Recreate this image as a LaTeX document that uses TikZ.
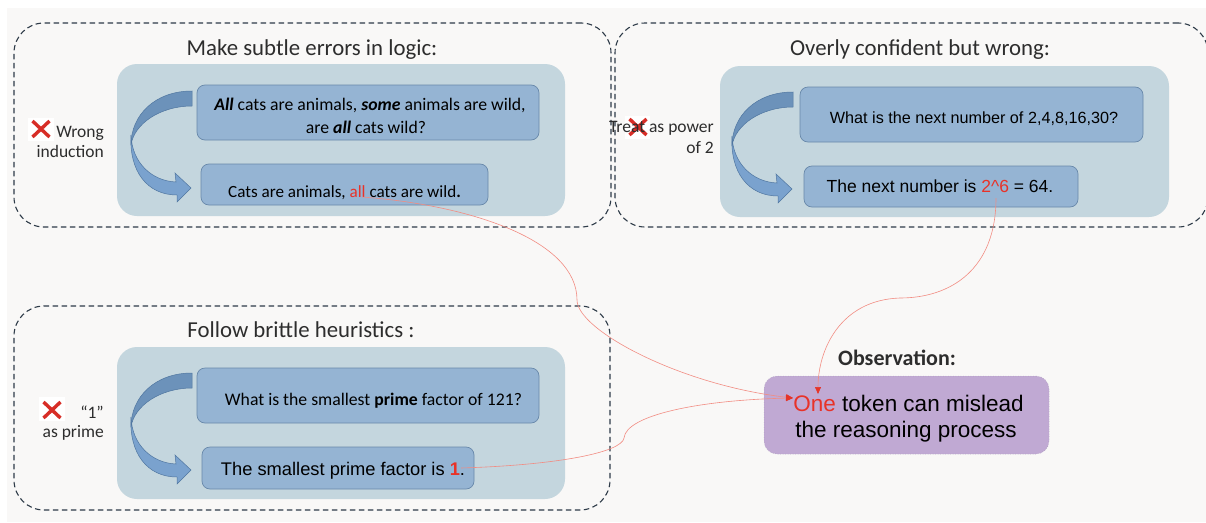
\documentclass[tikz,border=0pt]{standalone}
\usepackage{fontspec}
\setmainfont{Carlito}
\newfontfamily\arial{Liberation Sans}
\usetikzlibrary{arrows.meta}
\definecolor{bgc}{RGB}{249,248,247}
\definecolor{dashc}{RGB}{46,59,72}
\definecolor{innerc}{RGB}{196,214,222}
\definecolor{boxc}{RGB}{149,180,211}
\definecolor{boxb}{RGB}{104,136,170}
\definecolor{purp}{RGB}{192,169,211}
\definecolor{purpb}{RGB}{165,150,180}
\definecolor{titc}{RGB}{45,45,45}
\definecolor{redt}{RGB}{232,50,40}
\definecolor{xred}{RGB}{215,45,38}
\definecolor{connc}{RGB}{242,140,130}
\definecolor{arrred}{RGB}{230,52,40}
\definecolor{arrl}{RGB}{122,162,206}
\definecolor{arrd}{RGB}{108,146,186}
\definecolor{arrb}{RGB}{80,118,160}
\begin{document}
\begin{tikzpicture}[x=1pt,y=-1pt,
  dashbox/.style={draw=dashc, line width=1.1pt, dash pattern=on 5.5pt off 3.5pt, rounded corners=30pt, inner sep=0pt},
  innerbox/.style={fill=innerc, rounded corners=20pt, inner sep=0pt},
  tbox/.style={fill=boxc, draw=boxb, line width=0.7pt, rounded corners=8pt, inner sep=0pt},
  obsbox/.style={fill=purp, draw=purpb, line width=0.5pt, dotted, rounded corners=13pt, inner sep=0pt},
  tit/.style={font=\fontsize{22.8}{27}\selectfont, text=titc, anchor=base, inner sep=0pt},
  cal/.style={font=\fontsize{17.7}{21}\selectfont, anchor=base, inner sep=0pt},
  ari/.style={font=\arial\fontsize{17.5}{21}\selectfont, anchor=base, inner sep=0pt},
  side/.style={font=\fontsize{17.5}{21}\selectfont, text=titc, anchor=base east, inner sep=0pt},
  conn/.style={draw=connc, line width=0.6pt, -{Triangle[length=7pt,width=6pt,color=arrred]}},
  xm/.pic={\draw[xred, line width=3.4pt] (-8.5,-8)--(8.5,8) (-8.5,8)--(8.5,-8);},
  carrow/.pic={
    \filldraw[fill=arrl, draw=arrb, line width=0.5pt] (-61,44) .. controls (-60,72) and (-40,90) .. (-16,91) -- (-17,82) -- (-1,97) -- (-15,111) -- (-15,104) .. controls (-45,104) and (-63,80) .. cycle;
    \filldraw[fill=arrd, draw=arrb, line width=0.5pt] (0,0) .. controls (-37,0) and (-61,24) .. (-61,54) .. controls (-58,33) and (-32,15) .. (0,15) -- cycle;
  }
]
\useasboundingbox (0,0) rectangle (1206,522);
\fill[white] (0,0) rectangle (1206,522);
\fill[bgc] (7,8) rectangle (1206,522);

% group frames
\node[dashbox, minimum width=597pt, minimum height=204pt] (g1) at (312.5,125) {};
\node[dashbox, minimum width=593pt, minimum height=204pt] (g2) at (911.5,125) {};
\node[dashbox, minimum width=596pt, minimum height=204pt] (g3) at (312,408) {};

% titles
\node[tit] (t1) at (312,55) {Make subtle errors in logic:};
\node[tit] (t2) at (920,55) {Overly confident but wrong:};
\node[tit] (t3) at (301,337) {Follow brittle heuristics :};

% inner panels
\node[innerbox, minimum width=448pt, minimum height=152pt] (p1) at (341,140) {};
\node[innerbox, minimum width=449pt, minimum height=151pt] (p2) at (944.5,141.5) {};
\node[innerbox, minimum width=448pt, minimum height=152pt] (p3) at (341,423) {};

% text boxes
\node[tbox, minimum width=342pt, minimum height=55pt] (q1) at (368,112.5) {};
\node[tbox, minimum width=287pt, minimum height=41pt] (a1) at (344.5,184.5) {};
\node[tbox, minimum width=343pt, minimum height=55pt] (q2) at (971.5,114.5) {};
\node[tbox, minimum width=274pt, minimum height=41pt] (a2) at (941,186.5) {};
\node[tbox, minimum width=342pt, minimum height=55pt] (q3) at (368,395.5) {};
\node[tbox, minimum width=272pt, minimum height=42pt] (a3) at (338,468) {};

% curved arrows
\pic at (192,91) {carrow};
\pic at (793,92) {carrow};
\pic at (192,373) {carrow};

% box texts
\node[cal] (q1a) at (370,110) {\textbf{\textit{All}} cats are animals, \textbf{\textit{some}} animals are wild,};
\node[cal] (q1b) at (366,133) {are \textbf{\textit{all}} cats wild?};
\node[cal, font=\fontsize{17.1}{21}\selectfont] (a1t) at (344.5,197) {Cats are animals, \textcolor{redt}{all} cats are wild\textbf{.}};
\node[ari, font=\arial\fontsize{16.2}{20}\selectfont] (q2t) at (974,123) {What is the next number of 2,4,8,16,30?};
\node[ari] (a2t) at (940,192) {The next number is \textcolor{redt}{2\^{}6} = 64.};
\node[cal] (q3t) at (373.5,405) {What is the smallest \textbf{prime} factor of 121?};
\node[ari, font=\arial\fontsize{18.3}{22}\selectfont] (a3t) at (343,475) {The smallest prime factor is \textcolor{redt}{\textbf{1}}.};

% side labels
\fill[white] (28,118) rectangle (54,141);
\fill[white] (625,116) rectangle (650,139);
\fill[white] (39,397) rectangle (65,421);
\pic at (41,129) {xm};
\pic at (638,127) {xm};
\pic at (52,410) {xm};
\node[side] (s1a) at (104,137) {Wrong};
\node[side] (s1b) at (104,157) {induction};
\node[side] (s2a) at (714,132) {Treat as power};
\node[side] (s2b) at (714,153) {of 2};
\node[side] (s3a) at (104,418) {“1”};
\node[side] (s3b) at (104,437) {as prime};

% observation
\node[font=\bfseries\fontsize{22}{26}\selectfont, text=titc, anchor=base, inner sep=0pt] (obsl) at (897,365) {Observation:};
\node[obsbox, minimum width=285pt, minimum height=78pt] (obs) at (906.5,415) {};
\node[font=\arial\fontsize{22.5}{26}\selectfont, anchor=base, inner sep=0pt] (o1) at (908.5,411) {\textcolor{redt}{One} token can mislead};
\node[font=\arial\fontsize{22.5}{26}\selectfont, anchor=base, inner sep=0pt] (o2) at (906,437) {the reasoning process};

% connectors
\coordinate (c1) at (362,197);
\coordinate (m1) at (577,300);
\coordinate (c2) at (996,198);
\coordinate (m2) at (900,298);
\coordinate (c3) at (461,468);
\coordinate (m3) at (624,438);
\coordinate (one) at (793,398);
\coordinate (onetop) at (818,394);
\draw[conn] (c1) .. controls (470,205) and (577,240) .. (m1) .. controls (577,330) and (680,385) .. (one);
\draw[conn] (c2) .. controls (996,270) and (950,298) .. (m2) .. controls (840,300) and (818,350) .. (onetop);
\draw[conn] (c3) .. controls (560,465) and (622,452) .. (m3) .. controls (626,415) and (700,400) .. (one);
\end{tikzpicture}
\end{document}
